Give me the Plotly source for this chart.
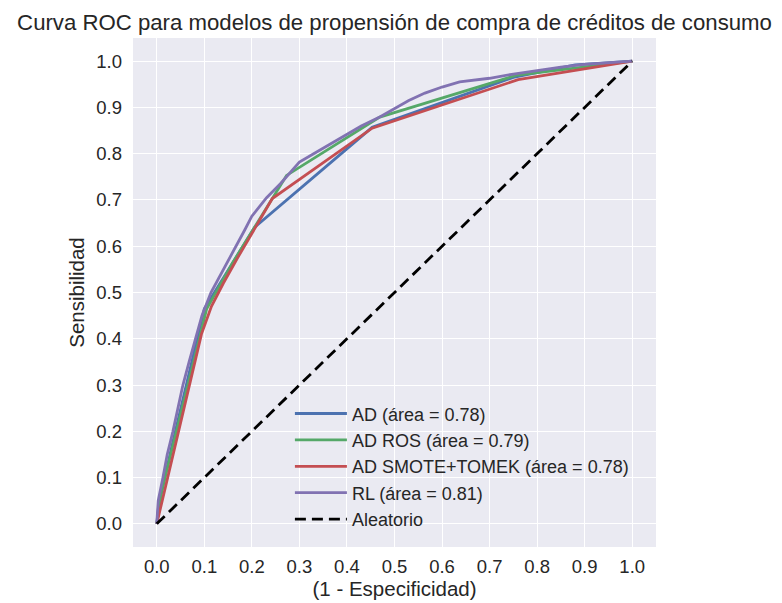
import plotly.graph_objects as go

# ---- data ----
ad_fpr = [0.0, 0.004, 0.03, 0.1, 0.206, 0.453, 0.75, 0.88, 1.0]
ad_tpr = [0.0, 0.04, 0.16, 0.465, 0.641, 0.857, 0.965, 0.992, 1.0]

ros_fpr = [0.0, 0.01, 0.105, 0.16, 0.273, 0.469, 0.758, 1.0]
ros_tpr = [0.0, 0.07, 0.465, 0.565, 0.753, 0.879, 0.97, 1.0]

smt_fpr = [0.0, 0.094, 0.115, 0.14, 0.17, 0.2, 0.243, 0.453, 0.76, 1.0]
smt_tpr = [0.0, 0.41, 0.47, 0.52, 0.575, 0.628, 0.703, 0.855, 0.96, 1.0]

rl_fpr = [0.0, 0.003, 0.013, 0.022, 0.034, 0.045, 0.055, 0.068, 0.082, 0.095,
          0.114, 0.13, 0.145, 0.168, 0.185, 0.2, 0.231, 0.26, 0.3, 0.33, 0.36,
          0.4, 0.43, 0.47, 0.5, 0.53, 0.564, 0.6, 0.637, 0.7, 0.75, 0.8, 0.85,
          0.9, 0.95, 1.0]
rl_tpr = [0.0, 0.05, 0.1, 0.15, 0.2, 0.25, 0.3, 0.35, 0.4, 0.45,
          0.5, 0.53, 0.56, 0.6, 0.635, 0.665, 0.705, 0.735, 0.782, 0.8, 0.818,
          0.842, 0.86, 0.88, 0.898, 0.915, 0.931, 0.944, 0.955, 0.963, 0.972,
          0.98, 0.987, 0.993, 0.997, 1.0]

rand_x = [0.0, 1.0]
rand_y = [0.0, 1.0]

ticks = [0.0, 0.1, 0.2, 0.3, 0.4, 0.5, 0.6, 0.7, 0.8, 0.9, 1.0]
tick_text = ["0.0", "0.1", "0.2", "0.3", "0.4", "0.5", "0.6", "0.7", "0.8", "0.9", "1.0"]

names = ["AD (área = 0.78)", "AD ROS (área = 0.79)",
         "AD SMOTE+TOMEK (área = 0.78)", "RL (área = 0.81)", "Aleatorio"]
colors = ["#4C72B0", "#55A868", "#C44E52", "#8172B2", "#000000"]

FONT = "Liberation Sans, Arial, sans-serif"
W, H = 774, 595  # page body has an 8px margin
fig = go.Figure()
series = [(ad_fpr, ad_tpr), (ros_fpr, ros_tpr), (smt_fpr, smt_tpr), (rl_fpr, rl_tpr)]
for i, (xs, ys) in enumerate(series):
    fig.add_trace(go.Scatter(x=xs, y=ys, mode="lines", name=names[i],
                             legendgroup=f"g{i}",
                             line=dict(color=colors[i], width=2.8)))
fig.add_trace(go.Scatter(x=rand_x, y=rand_y, mode="lines", name=names[4],
                         legendgroup="g4",
                         line=dict(color=colors[4], width=2.8, dash="11px,6px")))

fig.update_layout(
    width=W, height=H,
    margin=dict(l=125, r=126, t=30, b=56),
    paper_bgcolor="white", plot_bgcolor="#EAEAF2",
    font=dict(family=FONT, size=18.5, color="#262626"),
    title=dict(text="Curva ROC para modelos de propensión de compra de créditos de consumo",
               x=0.5, xref="paper", y=1 - 14 / H, yref="container",
               xanchor="center", yanchor="middle",
               font=dict(size=22.2, color="#262626", family=FONT)),
    showlegend=True,
    legend=dict(x=0.30, y=0.298, xanchor="left", yanchor="top",
                bgcolor="rgba(0,0,0,0)", font=dict(size=18, color="#262626"),
                tracegroupgap=0, itemwidth=52),
    xaxis=dict(range=[-0.05, 1.05], tickvals=ticks, ticktext=tick_text,
               showgrid=True, gridcolor="white", gridwidth=1.4, zeroline=False,
               showline=False, ticks="", ticklabelstandoff=6, automargin=False,
               tickfont=dict(size=18.5),
               title=dict(text="(1 - Especificidad)", standoff=6,
                          font=dict(size=20.5))),
    yaxis=dict(range=[-0.05, 1.05], tickvals=ticks, ticktext=tick_text,
               showgrid=True, gridcolor="white", gridwidth=1.4, zeroline=False,
               showline=False, ticks="", ticklabelstandoff=10, automargin=False,
               tickfont=dict(size=18.5),
               title=dict(text="Sensibilidad", standoff=6,
                          font=dict(size=20.5))),
)

fig.write_html("out.html")
